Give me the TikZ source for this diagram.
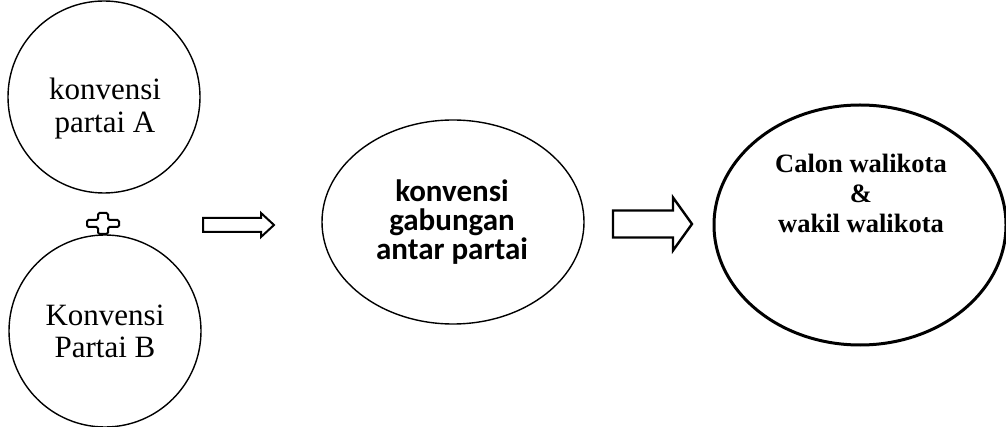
\documentclass[tikz,border=0pt]{standalone}
\usepackage{fontspec}
\setmainfont{Liberation Serif}
\newfontfamily\calfont{Carlito}
\usetikzlibrary{shapes.geometric}

\tikzset{
  roundbox/.style={circle, draw, line width=1.4pt, minimum size=192pt, inner sep=0pt},
  midoval/.style={ellipse, draw, line width=1.4pt, minimum width=262pt, minimum height=204pt, inner sep=0pt},
  bigoval/.style={ellipse, draw, line width=3pt, minimum width=292pt, minimum height=240pt, inner sep=0pt},
  blockarrow/.style={draw, line join=miter},
  serifline/.style={anchor=base, inner sep=0pt, font=\fontsize{31}{33}\selectfont},
  sansline/.style={anchor=base, inner sep=0pt, font=\calfont\bfseries\fontsize{31}{29}\selectfont},
  boldline/.style={anchor=base, inner sep=0pt, font=\bfseries\fontsize{26.5}{30}\selectfont},
}

\begin{document}
\begin{tikzpicture}[x=1pt, y=-1pt]
\useasboundingbox (0,0) rectangle (1006,427);

% party conventions
\node[roundbox] (ca) at (104,97) {};
\node[roundbox] (cb) at (105,331) {};
\node[serifline] (ca1) at (105,100) {konvensi};
\node[serifline] (ca2) at (105,133) {partai A};
\node[serifline] (cb1) at (105,326) {Konvensi};
\node[serifline] (cb2) at (105,357) {Partai B};

% outlined plus between the two conventions
\coordinate (plus) at (103,223.5);
\draw[line width=2pt, rounded corners=1.5pt]
  ([xshift=-5pt,yshift=-10.5pt]plus) -- ([xshift=5pt,yshift=-10.5pt]plus)
  -- ([xshift=5pt,yshift=-3.5pt]plus) -- ([xshift=16pt,yshift=-3.5pt]plus)
  -- ([xshift=16pt,yshift=3.5pt]plus) -- ([xshift=5pt,yshift=3.5pt]plus)
  -- ([xshift=5pt,yshift=10.5pt]plus) -- ([xshift=-5pt,yshift=10.5pt]plus)
  -- ([xshift=-5pt,yshift=3.5pt]plus) -- ([xshift=-16pt,yshift=3.5pt]plus)
  -- ([xshift=-16pt,yshift=-3.5pt]plus) -- ([xshift=-5pt,yshift=-3.5pt]plus)
  -- cycle;

% joint convention
\node[midoval] (mid) at (453,222) {};
\node[sansline] (m1) at (452,202) {konvensi};
\node[sansline] (m2) at (452,231) {gabungan};
\node[sansline] (m3) at (452,260) {antar partai};

% candidates
\node[bigoval] (res) at (860,225) {};
\node[boldline] (r1) at (861,173) {Calon walikota};
\node[boldline] (r2) at (861,203) {\&};
\node[boldline] (r3) at (861,233) {wakil walikota};

% block arrows: tail, head base and tip of each
\coordinate (ar1) at (203,225);
\draw[blockarrow, line width=2pt]
  ([yshift=7pt]ar1) -- ++(58,0) -- ++(0,-5) -- ++(13,12) -- ++(-13,12) -- ++(0,-5)
  -- ++(-58,0) -- cycle;
\coordinate (ar2) at (613,224);
\draw[blockarrow, line width=2.4pt]
  ([yshift=13.5pt]ar2) -- ++(60,0) -- ++(0,-13) -- ++(19,26.5) -- ++(-19,26.5) -- ++(0,-13)
  -- ++(-60,0) -- cycle;
\end{tikzpicture}
\end{document}
